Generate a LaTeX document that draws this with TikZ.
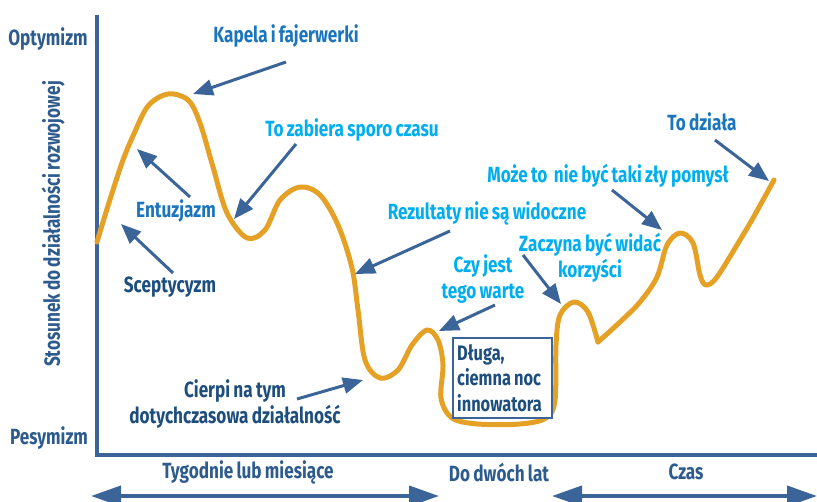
\documentclass[tikz,border=0pt]{standalone}
\usepackage{fontspec}
\setmainfont{Fira Sans}[FakeStretch=0.78, WordSpace=0.8]
\usetikzlibrary{arrows.meta}
\definecolor{navy}{HTML}{1D4E7E}
\definecolor{axtext}{HTML}{2E5B8E}
\definecolor{midblue}{HTML}{1B75BC}
\definecolor{cyanish}{HTML}{00AEEF}
\definecolor{steel}{HTML}{3B6598}
\definecolor{curveor}{HTML}{E5A126}
\tikzset{
  lbl/.style={font=\fontsize{22}{26}\selectfont\bfseries, inner sep=0pt, align=center},
  pointer/.style={steel, line width=3pt, -{Triangle[length=20pt,width=16pt]}},
  timearrow/.style={steel, line width=4pt, {Triangle[length=30pt,width=20pt]}-{Triangle[length=30pt,width=20pt]}},
  curve/.style={curveor, line width=5pt, line cap=round, line join=round},
}
\begin{document}
\begin{tikzpicture}[x=1pt,y=-1pt]
\useasboundingbox (0,0) rectangle (817,501);

% axes
\coordinate (ytop) at (97,15);
\coordinate (origin) at (97,455);
\coordinate (xend) at (817,455);
\draw[steel, line width=4pt] (ytop) -- (origin) -- (xend);

% axis labels
\node[lbl, text=axtext] (opt) at (48,39) {Optymizm};
\node[lbl, text=axtext] (pes) at (49,438) {Pesymizm};
\node[lbl, text=axtext, rotate=90] (ylab) at (53,224) {Stosunek do działalności rozwojowej};

% time labels and arrows
\node[lbl, text=axtext] (t1) at (248,472) {Tygodnie lub miesiące};
\node[lbl, text=axtext] (t2) at (499,472) {Do dwóch lat};
\node[lbl, text=axtext] (t3) at (686,472) {Czas};
\coordinate (a1l) at (91,496);
\coordinate (a1r) at (439,496);
\coordinate (a2l) at (552,496);
\coordinate (a2r) at (817,496);
\draw[timearrow] (a1l) -- (a1r);
\draw[timearrow] (a2l) -- (a2r);

% curve
\draw[curve] plot[smooth, tension=0.55] coordinates {
 (97,242) (103,222) (113,190) (123,160) (133,136) (148,106) (168,94) (188,100)
 (200,123) (213,167) (227,213) (247,238) (265,230) (280,200) (300,187) (320,195)
 (338,225) (352,268) (358,310) (365,360) (380,378) (398,370) (412,345) (427,330)
 (438,340) (443,365) (441,398) (452,418) (478,424) (520,424) (546,418) (555,400)
 (556,345) (560,315) (574,302) (588,312) (598,342)};
\draw[curve] plot[smooth, tension=0.55] coordinates {
 (598,342) (620,322) (640,302) (657,277) (667,245) (680,233) (693,243) (700,275)
 (706,285) (717,277) (740,240) (753,218) (774,180)};

% box
\node[draw=steel, line width=1.6pt, fill=white, inner sep=0pt,
      minimum width=99pt, minimum height=80pt, anchor=north west] (box) at (452,337) {};
\node[text=navy, font=\fontsize{21}{25.5}\selectfont\bfseries, align=left, inner sep=0pt, anchor=west]
      (boxtext) at ([xshift=5pt]box.west) {Długa,\\ciemna noc\\innowatora};

% labels
\node[lbl, text=midblue] (kapela) at (286,36) {Kapela i fajerwerki};
\node[lbl, text=cyanish] (zabiera) at (352,130) {To zabiera sporo czasu};
\node[lbl, text=midblue] (entuz) at (176,211) {Entuzjazm};
\node[lbl, text=navy] (scept) at (170,287) {Sceptycyzm};
\node[lbl, text=cyanish] (rezult) at (487,213) {Rezultaty nie są widoczne};
\node[lbl, text=cyanish] (czy) at (483,279) {Czy jest\\tego warte};
\node[lbl, text=cyanish] (zaczyna) at (590,258) {Zaczyna być widać\\korzyści};
\node[lbl, text=cyanish] (moze) at (608,176) {Może to\ \ nie być taki zły pomysł};
\node[lbl, text=midblue] (dziala) at (702,122) {To działa};
\node[lbl, text=navy] (cierpi) at (235,404) {Cierpi na tym\\dotychczasowa działalność};

% pointer arrows
\coordinate (p1s) at (286,62);  \coordinate (p1e) at (193,94);
\coordinate (p2s) at (190,197); \coordinate (p2e) at (137,149);
\coordinate (p3s) at (173,273); \coordinate (p3e) at (121,224);
\coordinate (p4s) at (296,144); \coordinate (p4e) at (234,219);
\coordinate (p5s) at (450,231); \coordinate (p5e) at (355,274);
\coordinate (p6s) at (297,399); \coordinate (p6e) at (363,380);
\coordinate (p7s) at (495,305); \coordinate (p7e) at (439,331);
\coordinate (p8s) at (523,255); \coordinate (p8e) at (561,304);
\coordinate (p9s) at (612,190); \coordinate (p9e) at (662,230);
\coordinate (p10s) at (715,140); \coordinate (p10e) at (769,181);
\foreach \i in {1,...,10} { \draw[pointer] (p\i s) -- (p\i e); }
\end{tikzpicture}
\end{document}
